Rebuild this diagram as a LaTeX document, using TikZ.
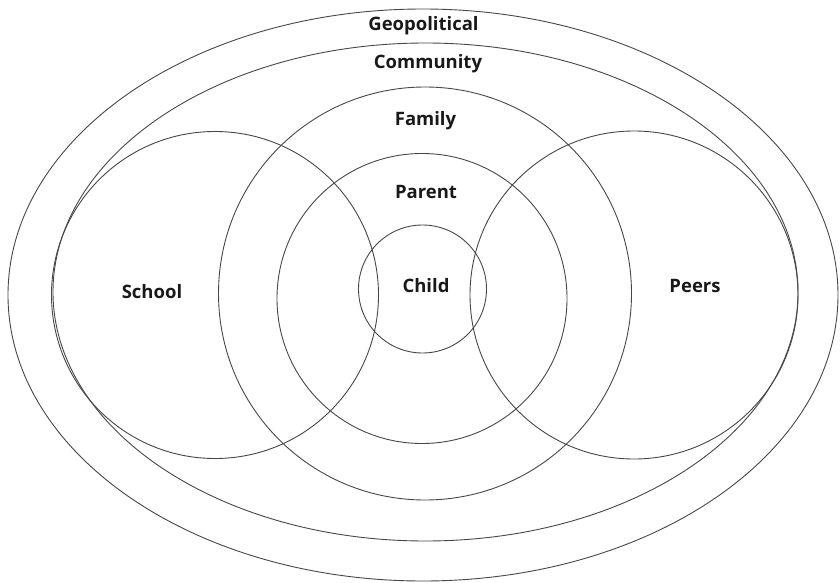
\documentclass[tikz,border=0pt]{standalone}
\usepackage{fontspec}
\setmainfont{Open Sans}
\begin{document}
\begin{tikzpicture}[x=1pt,y=-1pt,
  ring/.style={draw=black!72,line width=0.9pt},
  lbl/.style={font=\bfseries\fontsize{18.5}{22}\selectfont,text=black!90,inner sep=0pt}]
\useasboundingbox (0,0) rectangle (840,583);
% nested systems around the child
\draw[ring] (423,295) ellipse [x radius=415pt,y radius=286pt];
\draw[ring] (425.5,292) ellipse [x radius=372.5pt,y radius=249pt];
\draw[ring] (425,293.5) circle [radius=206.5pt];
\draw[ring] (422,298.5) circle [radius=145pt];
\draw[ring] (422.5,289) circle [radius=64pt];
% school and peers overlapping the family
\draw[ring] (215,295) circle [radius=163.5pt];
\draw[ring] (634,295) circle [radius=164pt];
% labels
\node[lbl] (geo) at (423.5,26) {Geopolitical};
\node[lbl] (com) at (428,64) {Community};
\node[lbl] (fam) at (425.5,121) {Family};
\node[lbl] (par) at (426,192) {Parent};
\node[lbl] (chi) at (426,286) {Child};
\node[lbl] (sch) at (152,292) {School};
\node[lbl] (pee) at (695,286) {Peers};
\end{tikzpicture}
\end{document}
